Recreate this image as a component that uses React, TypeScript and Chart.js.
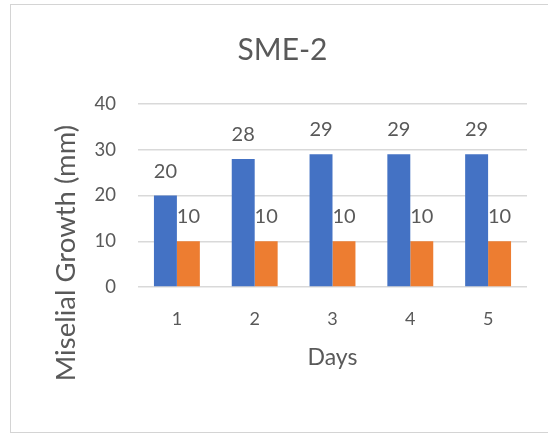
import React, { useEffect, useRef } from "react";
import { Chart, registerables } from "chart.js";

Chart.register(...registerables);

const chartTitle = "SME-2";
const days = ["1", "2", "3", "4", "5"];
const seriesA = [20, 28, 29, 29, 29];
const seriesB = [10, 10, 10, 10, 10];
const yTicks = [0, 10, 20, 30, 40];
const xAxisTitle = "Days";
const yAxisTitle = "Miselial Growth (mm)";

const TEXT = "#595959";
const FONT = "Lato, 'Open Sans', sans-serif";

const dataLabelPlugin = {
  id: "dataLabels",
  afterDatasetsDraw(chart: any) {
    const ctx = chart.ctx;
    ctx.save();
    ctx.font = `20px ${FONT}`;
    ctx.fillStyle = TEXT;
    ctx.textAlign = "center";
    ctx.textBaseline = "alphabetic";
    chart.data.datasets.forEach((ds: any, i: number) => {
      const meta = chart.getDatasetMeta(i);
      meta.data.forEach((bar: any, j: number) => {
        ctx.fillText(String(ds.data[j]), bar.x, bar.y - 18);
      });
    });
    ctx.restore();
  },
};

const yTitlePlugin = {
  id: "yTitle",
  afterDraw(chart: any) {
    const ctx = chart.ctx;
    const area = chart.chartArea;
    ctx.save();
    ctx.font = `27.5px ${FONT}`;
    ctx.fillStyle = TEXT;
    ctx.textAlign = "center";
    ctx.textBaseline = "alphabetic";
    ctx.translate(area.left - 63, area.bottom - 34);
    ctx.rotate(-Math.PI / 2);
    ctx.fillText(yAxisTitle, 0, 0);
    ctx.restore();
  },
};

export default function App() {
  const ref = useRef<HTMLCanvasElement>(null);
  useEffect(() => {
    if (!ref.current) return;
    const chart = new Chart(ref.current, {
      type: "bar",
      data: {
        labels: days,
        datasets: [
          { label: "A", data: seriesA, backgroundColor: "#4472C4" },
          { label: "B", data: seriesB, backgroundColor: "#ED7D31" },
        ],
      },
      plugins: [dataLabelPlugin, yTitlePlugin],
      options: {
        responsive: false,
        animation: false,
        maintainAspectRatio: false,
        datasets: { bar: { categoryPercentage: 0.59, barPercentage: 1 } },
        layout: { padding: { left: 38, right: 21, top: 0, bottom: 67 } },
        plugins: {
          legend: { display: false },
          tooltip: { enabled: false },
          title: {
            display: true,
            text: chartTitle,
            color: TEXT,
            font: { family: FONT, size: 30, weight: "normal", lineHeight: 1.2 },
            padding: { top: 32, bottom: 36 },
          },
        },
        scales: {
          x: {
            afterFit(scale: any) {
              scale.height = 84;
            },
            grid: { display: false, drawTicks: false },
            border: { display: false },
            ticks: { color: TEXT, font: { family: FONT, size: 18 }, padding: 21 },
            title: {
              display: true,
              text: xAxisTitle,
              color: TEXT,
              font: { family: FONT, size: 23, lineHeight: 1.2 },
              padding: { top: 15, bottom: 0 },
            },
          },
          y: {
            min: 0,
            max: 40,
            afterFit(scale: any) {
              scale.width = 100;
            },
            afterBuildTicks(scale: any) {
              scale.ticks = yTicks.map((v) => ({ value: v }));
            },
            grid: { color: "#D9D9D9", lineWidth: 1.5, drawTicks: false },
            border: { display: false },
            ticks: { color: TEXT, font: { family: FONT, size: 18.5 }, padding: 22 },
          },
        },
      },
    });
    return () => chart.destroy();
  }, []);
  return (
    <div style={{ position: "fixed", left: 0, top: 0, width: 548, height: 438, background: "#fff" }}>
      <div
        style={{
          position: "absolute",
          left: 10,
          top: 4,
          width: 560,
          height: 429,
          borderLeft: "1.5px solid #d4d4d4",
          borderTop: "1.5px solid #d4d4d4",
          borderBottom: "1.5px solid #d4d4d4",
          boxSizing: "border-box",
        }}
      />
      <canvas ref={ref} width={548} height={438} style={{ position: "absolute", left: 0, top: 0, width: 548, height: 438 }} />
    </div>
  );
}
